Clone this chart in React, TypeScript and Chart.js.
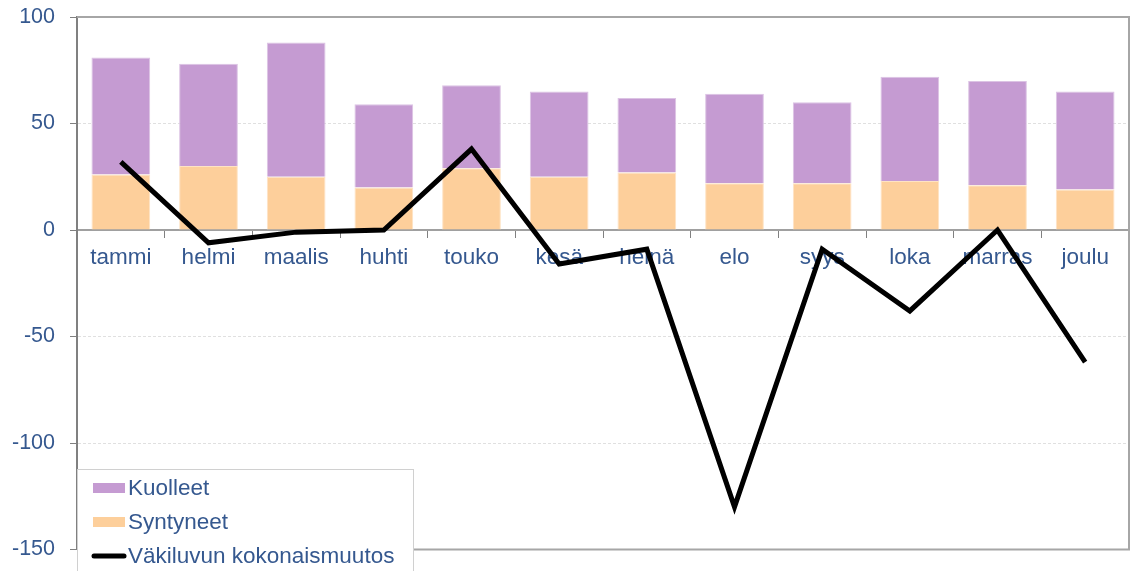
import React, { useEffect, useRef } from "react";
import { Chart, registerables } from "chart.js";

Chart.register(...registerables);

const months = ["tammi", "helmi", "maalis", "huhti", "touko", "kesä", "heinä", "elo", "syys", "loka", "marras", "joulu"];
const births = [26, 30, 25, 20, 29, 25, 27, 22, 22, 23, 21, 19];
const deaths = [55, 48, 63, 39, 39, 40, 35, 42, 38, 49, 49, 46];
const totalChange = [32, -6, -1, 0, 38, -16, -9, -130, -9, -38, 0, -62];
const yTicks = [100, 50, 0, -50, -100, -150];

const TEXT = "#35588F";
const FONT = "'Liberation Sans', Arial, sans-serif";

const frame = {
  id: "frame",
  beforeDatasetsDraw(chart: any) {
    const { ctx, chartArea: a } = chart;
    ctx.save();
    ctx.strokeStyle = "#a6a6a6";
    ctx.lineWidth = 2;
    ctx.beginPath();
    ctx.moveTo(a.left, a.top);
    ctx.lineTo(a.right, a.top);
    ctx.lineTo(a.right, a.bottom);
    ctx.lineTo(a.left, a.bottom);
    ctx.stroke();
    ctx.restore();
  },
};

const boxLegend = {
  id: "boxLegend",
  afterDraw(chart: any) {
    const { ctx, chartArea: a } = chart;
    const x0 = a.left;
    const y0 = 469;
    const w = 336;
    const h = 110;
    ctx.save();
    ctx.fillStyle = "#ffffff";
    ctx.fillRect(x0, y0, w, h);
    ctx.strokeStyle = "#d0d0d0";
    ctx.lineWidth = 1;
    ctx.strokeRect(x0 + 0.5, y0 + 0.5, w, h);
    const ds = chart.data.datasets;
    const items = [ds[1], ds[0], ds[2]];
    const rows = [488, 522, 556];
    ctx.font = `22.5px ${FONT}`;
    ctx.textBaseline = "middle";
    items.forEach((d: any, i: number) => {
      const cy = rows[i];
      if (d.type === "line") {
        ctx.strokeStyle = d.borderColor;
        ctx.lineWidth = 5;
        ctx.lineCap = "round";
        ctx.beginPath();
        ctx.moveTo(94, cy);
        ctx.lineTo(124, cy);
        ctx.stroke();
      } else {
        ctx.fillStyle = d.backgroundColor;
        ctx.fillRect(93, cy - 5, 32, 10);
      }
      ctx.fillStyle = TEXT;
      ctx.fillText(d.label, 128, cy + 1);
    });
    ctx.restore();
  },
};

export default function App() {
  const ref = useRef<HTMLCanvasElement>(null);
  useEffect(() => {
    document.body.style.margin = "0";
    const chart = new Chart(ref.current as HTMLCanvasElement, {
      type: "bar",
      data: {
        labels: months,
        datasets: [
          {
            type: "bar",
            label: "Syntyneet",
            data: births,
            backgroundColor: "#FDCF9B",
            borderColor: "#FEE3C4",
            borderWidth: 1,
            order: 1,
            stack: "s",
            barPercentage: 0.67,
            categoryPercentage: 1,
          },
          {
            type: "bar",
            label: "Kuolleet",
            data: deaths,
            backgroundColor: "#C59BD2",
            borderColor: "#DCC3E4",
            borderWidth: 1,
            order: 1,
            stack: "s",
            barPercentage: 0.67,
            categoryPercentage: 1,
          },
          {
            type: "line",
            label: "Väkiluvun kokonaismuutos",
            data: totalChange,
            borderColor: "#000000",
            backgroundColor: "#000000",
            borderWidth: 5,
            pointRadius: 0,
            tension: 0,
            order: 0,
            stack: "line",
          } as any,
        ],
      },
      options: {
        animation: false,
        responsive: false,
        maintainAspectRatio: false,
        layout: { padding: { top: 17, right: 1, bottom: 21.5, left: 0 } },
        plugins: { legend: { display: false }, tooltip: { enabled: false } },
        scales: {
          x: {
            stacked: true,
            position: { y: 0 } as any,
            offset: true,
            afterFit(scale: any) {
              scale.height = 0;
              scale.paddingLeft = 0;
              scale.paddingRight = 0;
              scale.paddingTop = 0;
              scale.paddingBottom = 0;
            },
            grid: {
              display: true,
              drawOnChartArea: false,
              drawTicks: true,
              tickLength: 7,
              color: "#808080",
              offset: true,
            },
            border: { display: true, color: "#a0a0a0", width: 2 },
            ticks: {
              autoSkip: false,
              maxRotation: 0,
              padding: 7,
              color: TEXT,
              font: { family: FONT, size: 22.5 },
            },
          },
          y: {
            stacked: true,
            min: -150,
            max: 100,
            afterFit(scale: any) {
              scale.width = 77;
              scale.paddingTop = 0;
              scale.paddingBottom = 0;
            },
            afterBuildTicks(scale: any) {
              scale.ticks = yTicks.map((v) => ({ value: v }));
            },
            grid: {
              color: "#e0e0e0",
              lineWidth: 1,
              drawTicks: true,
              tickLength: 7,
              tickColor: "#808080",
            },
            border: { display: true, color: "#808080", width: 2, dash: [3, 2] },
            ticks: {
              padding: 15,
              color: TEXT,
              font: { family: FONT, size: 21.5 },
            },
          },
        },
      },
      plugins: [frame, boxLegend],
    });
    return () => chart.destroy();
  }, []);
  return (
    <div style={{ width: 1130, height: 571 }}>
      <canvas ref={ref} width={1130} height={571} style={{ display: "block" }} />
    </div>
  );
}
